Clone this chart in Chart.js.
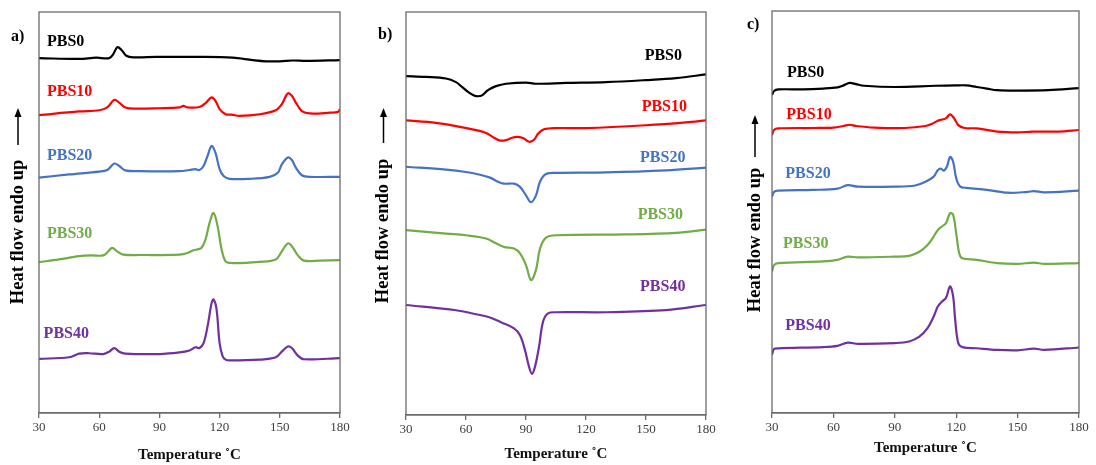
<!DOCTYPE html>
<html>
<head>
<meta charset="utf-8">
<script src="https://cdn.jsdelivr.net/npm/chart.js@4.4.0/dist/chart.umd.min.js"></script>
<style>
body { margin: 0; background: #fff; width: 1096px; height: 465px; position: relative; overflow: hidden; }
.panel { position: absolute; top: 0; height: 465px; }
</style>
</head>
<body>
<div class="panel" style="left:0;width:366px"><canvas id="chart-a" width="366" height="465"></canvas></div>
<div class="panel" style="left:366px;width:370px"><canvas id="chart-b" width="370" height="465"></canvas></div>
<div class="panel" style="left:736px;width:360px"><canvas id="chart-c" width="360" height="465"></canvas></div>
<script>
// sample names, shared by the three panels
const samples = ['PBS0', 'PBS10', 'PBS20', 'PBS30', 'PBS40'];
const xTicks = [30, 60, 90, 120, 150, 180];

// panel a) temperature (°C) and heat flow (a.u., endo up)
const aT0 = [30, 50, 58.5, 65, 67, 69, 71, 73.5, 77, 88.5, 110, 126.5, 136.5, 143, 150, 156.5, 163, 180];
const aY0 = [88.5, 88.3, 88.6, 88.5, 89.5, 91.2, 90.6, 89.1, 88.7, 88.8, 88.8, 88.6, 88.0, 87.7, 87.7, 87.9, 87.8, 88.0];
const aT10 = [30, 50, 60, 64, 67.5, 70, 73, 78, 90, 100, 102, 104, 110, 113, 116, 118, 120, 123, 126, 130, 140, 148, 151, 154, 156, 158, 161, 165, 175, 179, 180];
const aY10 = [74.3, 75.2, 75.5, 76.2, 78.1, 77.4, 76.2, 75.9, 76.0, 76.2, 76.6, 76.2, 76.3, 77.3, 78.7, 77.8, 75.8, 74.5, 74.4, 74.1, 74.5, 75.5, 77.0, 79.7, 79.1, 77.4, 75.3, 74.7, 74.9, 75.1, 75.8];
const aT20 = [30, 45, 60, 64, 67.5, 70, 73, 80, 100, 105, 108, 110, 112, 114, 116, 118, 120, 122, 125, 135, 145, 149, 151, 154, 156, 158, 161, 165, 180];
const aY20 = [58.7, 59.5, 60.2, 60.6, 62.2, 61.6, 60.5, 60.3, 60.3, 60.6, 60.8, 60.6, 61.6, 64.1, 66.6, 64.8, 60.8, 59.1, 58.4, 58.4, 58.9, 59.9, 62.0, 63.7, 63.1, 61.2, 59.3, 58.9, 58.9];
const aT30 = [30, 40, 50, 56, 62, 64.5, 66.5, 69, 72, 80, 100, 104, 107, 109, 111, 113, 115, 117, 119, 121, 123, 126, 140, 148, 151, 154, 156, 159, 162, 170, 180];
const aY30 = [37.6, 38.3, 39.1, 39.3, 39.3, 40.3, 41.2, 40.3, 39.5, 39.4, 39.5, 39.9, 40.6, 40.8, 41.2, 43.3, 47.4, 49.9, 46.6, 40.8, 37.8, 37.4, 37.7, 38.3, 40.3, 42.3, 41.6, 39.3, 38.0, 38.0, 38.1];
const aT40 = [30, 45, 50, 55, 62, 65, 67.5, 70, 73, 90, 100, 105, 108, 110, 112, 114, 116, 117, 118.5, 120, 121.5, 123, 125, 140, 148, 151, 154, 156, 159, 162, 180];
const aY40 = [13.5, 13.9, 14.8, 14.9, 14.7, 15.3, 16.2, 15.3, 14.8, 14.7, 15.1, 15.6, 16.4, 16.2, 17.4, 21.6, 27.4, 28.3, 25.8, 17.4, 14.2, 13.3, 13.1, 13.3, 13.9, 15.3, 16.6, 16.2, 14.3, 13.4, 13.7];

// panel b)
const bT0 = [30, 40, 50, 55, 58, 61, 64, 66, 68, 71, 75, 80, 90, 95, 110, 130, 150, 165, 180];
const bY0 = [84.1, 83.9, 83.5, 82.6, 81.4, 80.2, 79.3, 79.1, 79.3, 80.6, 81.6, 82.2, 82.5, 82.2, 82.4, 82.6, 83.1, 83.6, 84.5];
const bT10 = [30, 45, 55, 65, 70, 74, 77, 80, 83, 86, 89, 91.5, 94, 96, 99, 105, 120, 150, 170, 180];
const bY10 = [73.1, 72.5, 71.7, 70.7, 70.0, 68.8, 68.1, 68.2, 68.8, 69.0, 68.6, 67.8, 68.3, 69.8, 70.9, 71.2, 71.2, 71.9, 72.6, 73.1];
const bT20 = [30, 50, 60, 68, 72, 76, 79, 84, 87, 90, 92.5, 95, 97, 100, 105, 130, 160, 180];
const bY20 = [61.6, 60.9, 60.3, 59.5, 58.9, 57.9, 57.4, 57.4, 56.6, 54.5, 52.8, 54.5, 57.9, 59.8, 60.1, 60.2, 60.7, 61.4];
const bT30 = [30, 50, 60, 70, 75, 79, 84, 87, 90, 92.5, 95, 97, 100, 105, 140, 165, 180];
const bY30 = [45.9, 45.0, 44.6, 43.8, 42.6, 41.7, 41.3, 40.1, 37.2, 33.5, 36.0, 41.3, 44.0, 44.6, 44.8, 45.2, 46.0];
const bT40 = [30, 55, 65, 72, 78, 84, 87, 89.5, 91.5, 93, 94.5, 96.5, 98.5, 101, 105, 130, 160, 180];
const bY40 = [27.3, 26.0, 25.0, 24.2, 22.9, 21.5, 19.8, 16.1, 12.0, 10.2, 12.0, 16.9, 23.1, 25.2, 25.5, 25.5, 26.0, 27.3];

// panel c)
const cT0 = [30, 31, 33, 45, 55, 62, 65, 68, 71, 75, 90, 110, 120, 125, 130, 135, 140, 150, 165, 180];
const cY0 = [79.1, 80.1, 80.5, 80.5, 80.7, 81.0, 81.5, 82.1, 81.8, 81.4, 81.1, 81.4, 81.5, 81.5, 81.1, 80.7, 80.3, 80.2, 80.3, 80.8];
const cT10 = [30, 31, 33, 50, 60, 65, 68, 71, 80, 95, 105, 108, 111, 113, 115, 117, 119, 121, 124, 130, 140, 150, 157, 160, 170, 180];
const cY10 = [69.1, 70.4, 70.8, 70.9, 71.0, 71.4, 71.7, 71.4, 71.0, 70.9, 71.4, 71.9, 72.7, 73.0, 73.3, 74.3, 73.3, 71.6, 70.9, 70.8, 70.0, 69.8, 70.0, 70.0, 70.0, 70.4];
const cT20 = [30, 31, 33, 50, 62, 67, 72, 90, 100, 105, 109, 111, 112.5, 114, 115.5, 117, 118.5, 120, 122, 125, 135, 145, 155, 158, 163, 180];
const cY20 = [53.8, 55.0, 55.3, 55.5, 55.8, 56.7, 56.3, 56.3, 56.6, 57.5, 58.8, 60.4, 60.8, 60.3, 61.3, 63.7, 62.5, 58.4, 56.3, 56.0, 55.5, 54.8, 55.0, 55.2, 54.9, 55.3];
const cT30 = [30, 31, 33, 55, 62, 67, 72, 90, 97, 102, 106, 109, 111, 113, 115, 117, 118.5, 120, 121.5, 123, 130, 140, 150, 158, 163, 180];
const cY30 = [35.2, 36.8, 37.3, 37.7, 38.1, 38.9, 38.7, 38.9, 39.1, 40.1, 41.8, 43.9, 45.5, 46.4, 47.2, 49.7, 49.3, 44.7, 39.7, 38.5, 38.1, 37.3, 37.1, 37.4, 37.1, 37.3];
const cT40 = [30, 31, 33, 55, 62, 67, 72, 90, 97, 102, 106, 109, 111, 113, 115, 117, 118.5, 119.5, 121, 123, 130, 140, 150, 158, 163, 180];
const cY40 = [14.5, 15.9, 16.1, 16.4, 16.7, 17.5, 17.2, 17.4, 17.8, 19.0, 21.1, 24.0, 26.5, 27.7, 28.6, 31.5, 29.0, 23.2, 17.4, 16.4, 16.1, 15.7, 15.6, 16.0, 15.7, 16.3];

const colors = ['#000000', '#ff0000', '#4472c4', '#70ad47', '#7030a0'];
const SERIF = '"Liberation Serif", "Times New Roman", serif';
const FRAME = '#6a6a6a';

function pairs(ts, ys) {
    return ts.map((t, i) => ({ x: t, y: ys[i] }));
}

// frame, curve names, panel letter and the "Heat flow endo up" title with arrow
function decorPlugin(cfg) {
    return {
        id: 'decor',
        afterDraw(chart) {
            const ctx = chart.ctx;
            const area = chart.chartArea;
            const xs = chart.scales.x, ys = chart.scales.y;
            ctx.save();
            ctx.strokeStyle = FRAME;
            ctx.lineWidth = 1.3;
            ctx.strokeRect(area.left, area.top, area.right - area.left, area.bottom - area.top);

            ctx.font = 'bold 16px ' + SERIF;
            ctx.textBaseline = 'middle';
            ctx.textAlign = cfg.labelAlign;
            cfg.labelPos.forEach((p, i) => {
                ctx.fillStyle = colors[i];
                ctx.fillText(samples[i], xs.getPixelForValue(p[0]), ys.getPixelForValue(p[1]));
            });

            ctx.fillStyle = '#000';
            ctx.textAlign = 'left';
            ctx.fillText(cfg.letter, cfg.letterX, cfg.letterY);

            ctx.save();
            ctx.translate(cfg.titleX, cfg.titleY);
            ctx.rotate(-Math.PI / 2);
            ctx.textAlign = 'center';
            ctx.font = 'bold 18.5px ' + SERIF;
            ctx.fillText('Heat flow endo up', 0, 0);
            ctx.restore();

            ctx.strokeStyle = '#000';
            ctx.lineWidth = 1.5;
            ctx.beginPath();
            ctx.moveTo(cfg.titleX, cfg.arrowBottom);
            ctx.lineTo(cfg.titleX, cfg.arrowTop + 4);
            ctx.stroke();
            ctx.beginPath();
            ctx.moveTo(cfg.titleX, cfg.arrowTop);
            ctx.lineTo(cfg.titleX - 3.5, cfg.arrowTop + 9);
            ctx.lineTo(cfg.titleX + 3.5, cfg.arrowTop + 9);
            ctx.closePath();
            ctx.fill();
            ctx.restore();
        }
    };
}

function drawPanel(canvasId, series, cfg) {
    const ctx = document.getElementById(canvasId).getContext('2d');
    new Chart(ctx, {
        type: 'line',
        data: {
            datasets: series.map((s, i) => ({
                label: samples[i],
                data: pairs(s[0], s[1]),
                borderColor: colors[i],
                borderWidth: 2.2,
                pointRadius: 0,
                fill: false,
                tension: 0.35
            }))
        },
        options: {
            responsive: false,
            animation: false,
            layout: { padding: cfg.padding },
            plugins: { legend: { display: false }, tooltip: { enabled: false } },
            scales: {
                x: {
                    type: 'linear',
                    min: 30,
                    max: 180,
                    afterFit: s => { s.height = cfg.axisHeight; },
                    afterBuildTicks: s => { s.ticks = xTicks.map(v => ({ value: v })); },
                    ticks: { color: '#404040', font: { family: SERIF, size: 13 }, padding: 2, maxRotation: 0 },
                    grid: { drawOnChartArea: false, drawTicks: true, tickLength: 5, color: FRAME, lineWidth: 1.3 },
                    border: { display: true, color: FRAME, width: 1.3 },
                    title: {
                        display: true,
                        text: 'Temperature ˚C',
                        color: '#111',
                        font: { family: SERIF, size: 15, weight: 'bold' },
                        padding: { top: 0, bottom: cfg.titlePad }
                    }
                },
                y: { display: false, min: 0, max: 100 }
            }
        },
        plugins: [decorPlugin(cfg)]
    });
}

document.addEventListener('DOMContentLoaded', () => {
    drawPanel('chart-a', [[aT0, aY0], [aT10, aY10], [aT20, aY20], [aT30, aY30], [aT40, aY40]], {
        padding: { left: 39, right: 26, top: 12, bottom: 0 },
        axisHeight: 52, titlePad: 1,
        labelAlign: 'left',
        labelPos: [[34, 92.5], [34, 80.0], [34, 64.1], [34, 44.6], [32.3, 19.7]],
        letter: 'a)', letterX: 11, letterY: 37,
        titleX: 18, titleY: 232, arrowTop: 108, arrowBottom: 145
    });
    drawPanel('chart-b', [[bT0, bY0], [bT10, bY10], [bT20, bY20], [bT30, bY30], [bT40, bY40]], {
        padding: { left: 40, right: 30, top: 12, bottom: 0 },
        axisHeight: 50, titlePad: 2,
        labelAlign: 'right',
        labelPos: [[168, 89.0], [170.5, 76.4], [169.7, 63.8], [168.5, 49.6], [169.7, 31.7]],
        letter: 'b)', letterX: 12, letterY: 35,
        titleX: 17.5, titleY: 231, arrowTop: 108, arrowBottom: 143
    });
    drawPanel('chart-c', [[cT0, cY0], [cT10, cY10], [cT20, cY20], [cT30, cY30], [cT40, cY40]], {
        padding: { left: 36, right: 17, top: 11, bottom: 0 },
        axisHeight: 52, titlePad: 8,
        labelAlign: 'left',
        labelPos: [[37.3, 84.6], [37, 74.1], [36.5, 59.6], [35.4, 42.0], [36.5, 21.7]],
        letter: 'c)', letterX: 11, letterY: 25,
        titleX: 19, titleY: 240, arrowTop: 115, arrowBottom: 157
    });
});
</script>
</body>
</html>
